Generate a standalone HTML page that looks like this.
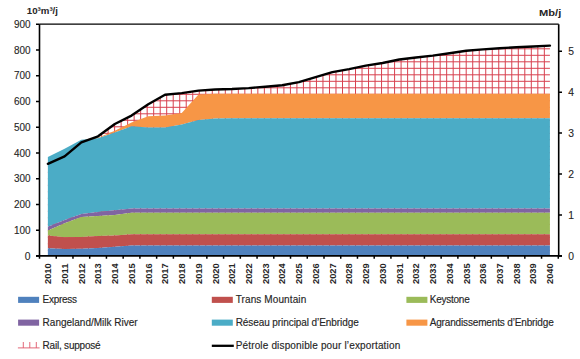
<!DOCTYPE html>
<html><head><meta charset="utf-8"><style>
html,body{margin:0;padding:0;background:#fff;}
body{width:580px;height:359px;position:relative;overflow:hidden;font-family:"Liberation Sans",sans-serif;}
</style></head><body>
<svg width="580" height="359" viewBox="0 0 580 359" style="position:absolute;left:0;top:0"><defs><clipPath id="hc"><polygon points="47.87,163.80 64.60,156.40 81.34,142.40 98.07,136.30 114.81,124.00 131.54,115.60 148.28,104.30 165.01,94.80 181.75,93.10 198.49,90.60 215.22,89.50 231.95,89.00 248.69,88.10 265.43,86.70 282.16,85.20 298.89,82.10 315.63,77.20 332.37,72.10 349.10,69.10 365.83,65.60 382.57,63.00 399.31,59.50 416.04,57.50 432.77,55.60 449.51,53.30 466.25,50.80 482.98,49.40 499.71,48.30 516.45,47.20 533.18,46.50 549.92,45.60 549.92,255.0 47.87,255.0"/></clipPath></defs><g clip-path="url(#hc)"><path d="M49.50,40 V256 M56.01,40 V256 M62.52,40 V256 M69.03,40 V256 M75.54,40 V256 M82.06,40 V256 M88.57,40 V256 M95.08,40 V256 M101.59,40 V256 M108.10,40 V256 M114.61,40 V256 M121.12,40 V256 M127.63,40 V256 M134.14,40 V256 M140.65,40 V256 M147.17,40 V256 M153.68,40 V256 M160.19,40 V256 M166.70,40 V256 M173.21,40 V256 M179.72,40 V256 M186.23,40 V256 M192.74,40 V256 M199.25,40 V256 M205.76,40 V256 M212.28,40 V256 M218.79,40 V256 M225.30,40 V256 M231.81,40 V256 M238.32,40 V256 M244.83,40 V256 M251.34,40 V256 M257.85,40 V256 M264.36,40 V256 M270.87,40 V256 M277.38,40 V256 M283.90,40 V256 M290.41,40 V256 M296.92,40 V256 M303.43,40 V256 M309.94,40 V256 M316.45,40 V256 M322.96,40 V256 M329.47,40 V256 M335.98,40 V256 M342.50,40 V256 M349.01,40 V256 M355.52,40 V256 M362.03,40 V256 M368.54,40 V256 M375.05,40 V256 M381.56,40 V256 M388.07,40 V256 M394.58,40 V256 M401.09,40 V256 M407.61,40 V256 M414.12,40 V256 M420.63,40 V256 M427.14,40 V256 M433.65,40 V256 M440.16,40 V256 M446.67,40 V256 M453.18,40 V256 M459.69,40 V256 M466.20,40 V256 M472.72,40 V256 M479.23,40 V256 M485.74,40 V256 M492.25,40 V256 M498.76,40 V256 M505.27,40 V256 M511.78,40 V256 M518.29,40 V256 M524.80,40 V256 M531.31,40 V256 M537.83,40 V256 M544.34,40 V256 M550.85,40 V256 M46,42.30 H552 M46,48.80 H552 M46,55.30 H552 M46,61.80 H552 M46,68.30 H552 M46,74.80 H552 M46,81.30 H552 M46,87.80 H552 M46,94.30 H552 M46,100.80 H552 M46,107.30 H552 M46,113.80 H552 M46,120.30 H552 M46,126.80 H552 M46,133.30 H552 M46,139.80 H552 M46,146.30 H552 M46,152.80 H552 M46,159.30 H552 M46,165.80 H552 M46,172.30 H552 M46,178.80 H552 M46,185.30 H552 M46,191.80 H552 M46,198.30 H552 M46,204.80 H552 M46,211.30 H552 M46,217.80 H552 M46,224.30 H552 M46,230.80 H552 M46,237.30 H552 M46,243.80 H552 M46,250.30 H552" stroke="#d8404f" stroke-width="1" fill="none"/></g><polygon points="47.87,156.90 64.60,148.70 81.34,139.80 98.07,137.80 114.81,130.80 131.54,122.50 148.28,116.30 165.01,115.40 181.75,113.00 198.49,94.60 215.22,93.80 231.95,93.80 248.69,93.80 265.43,93.80 282.16,93.80 298.89,93.80 315.63,93.80 332.37,93.80 349.10,93.80 365.83,93.80 382.57,93.80 399.31,93.80 416.04,93.80 432.77,93.80 449.51,93.80 466.25,93.80 482.98,93.80 499.71,93.80 516.45,93.80 533.18,93.80 549.92,93.80 549.92,118.20 533.18,118.20 516.45,118.20 499.71,118.20 482.98,118.20 466.25,118.20 449.51,118.20 432.77,118.20 416.04,118.20 399.31,118.20 382.57,118.20 365.83,118.20 349.10,118.20 332.37,118.20 315.63,118.20 298.89,118.20 282.16,118.20 265.43,118.20 248.69,118.20 231.95,118.20 215.22,118.60 198.49,120.00 181.75,124.50 165.01,127.50 148.28,127.40 131.54,126.30 114.81,132.60 98.07,138.20 81.34,139.80 64.60,148.70 47.87,156.90" fill="#F79646"/><polygon points="47.87,156.90 64.60,148.70 81.34,139.80 98.07,138.20 114.81,132.60 131.54,126.30 148.28,127.40 165.01,127.50 181.75,124.50 198.49,120.00 215.22,118.60 231.95,118.20 248.69,118.20 265.43,118.20 282.16,118.20 298.89,118.20 315.63,118.20 332.37,118.20 349.10,118.20 365.83,118.20 382.57,118.20 399.31,118.20 416.04,118.20 432.77,118.20 449.51,118.20 466.25,118.20 482.98,118.20 499.71,118.20 516.45,118.20 533.18,118.20 549.92,118.20 549.92,208.60 533.18,208.60 516.45,208.60 499.71,208.60 482.98,208.60 466.25,208.60 449.51,208.60 432.77,208.60 416.04,208.60 399.31,208.60 382.57,208.60 365.83,208.60 349.10,208.60 332.37,208.60 315.63,208.60 298.89,208.60 282.16,208.60 265.43,208.60 248.69,208.60 231.95,208.60 215.22,208.60 198.49,208.60 181.75,208.60 165.01,208.60 148.28,208.60 131.54,208.60 114.81,210.30 98.07,212.00 81.34,214.00 64.60,220.00 47.87,226.70" fill="#4BACC6"/><polygon points="47.87,226.70 64.60,220.00 81.34,214.00 98.07,212.00 114.81,210.30 131.54,208.60 148.28,208.60 165.01,208.60 181.75,208.60 198.49,208.60 215.22,208.60 231.95,208.60 248.69,208.60 265.43,208.60 282.16,208.60 298.89,208.60 315.63,208.60 332.37,208.60 349.10,208.60 365.83,208.60 382.57,208.60 399.31,208.60 416.04,208.60 432.77,208.60 449.51,208.60 466.25,208.60 482.98,208.60 499.71,208.60 516.45,208.60 533.18,208.60 549.92,208.60 549.92,212.80 533.18,212.80 516.45,212.80 499.71,212.80 482.98,212.80 466.25,212.80 449.51,212.80 432.77,212.80 416.04,212.80 399.31,212.80 382.57,212.80 365.83,212.80 349.10,212.80 332.37,212.80 315.63,212.80 298.89,212.80 282.16,212.80 265.43,212.80 248.69,212.80 231.95,212.80 215.22,212.80 198.49,212.80 181.75,212.80 165.01,212.80 148.28,212.80 131.54,212.80 114.81,215.00 98.07,216.00 81.34,217.00 64.60,223.20 47.87,230.50" fill="#8064A2"/><polygon points="47.87,230.50 64.60,223.20 81.34,217.00 98.07,216.00 114.81,215.00 131.54,212.80 148.28,212.80 165.01,212.80 181.75,212.80 198.49,212.80 215.22,212.80 231.95,212.80 248.69,212.80 265.43,212.80 282.16,212.80 298.89,212.80 315.63,212.80 332.37,212.80 349.10,212.80 365.83,212.80 382.57,212.80 399.31,212.80 416.04,212.80 432.77,212.80 449.51,212.80 466.25,212.80 482.98,212.80 499.71,212.80 516.45,212.80 533.18,212.80 549.92,212.80 549.92,234.30 533.18,234.30 516.45,234.30 499.71,234.30 482.98,234.30 466.25,234.30 449.51,234.30 432.77,234.30 416.04,234.30 399.31,234.30 382.57,234.30 365.83,234.30 349.10,234.30 332.37,234.30 315.63,234.30 298.89,234.30 282.16,234.30 265.43,234.30 248.69,234.30 231.95,234.30 215.22,234.30 198.49,234.30 181.75,234.30 165.01,234.30 148.28,234.30 131.54,234.30 114.81,235.50 98.07,236.10 81.34,237.00 64.60,237.20 47.87,235.60" fill="#9BBB59"/><polygon points="47.87,235.60 64.60,237.20 81.34,237.00 98.07,236.10 114.81,235.50 131.54,234.30 148.28,234.30 165.01,234.30 181.75,234.30 198.49,234.30 215.22,234.30 231.95,234.30 248.69,234.30 265.43,234.30 282.16,234.30 298.89,234.30 315.63,234.30 332.37,234.30 349.10,234.30 365.83,234.30 382.57,234.30 399.31,234.30 416.04,234.30 432.77,234.30 449.51,234.30 466.25,234.30 482.98,234.30 499.71,234.30 516.45,234.30 533.18,234.30 549.92,234.30 549.92,245.60 533.18,245.60 516.45,245.60 499.71,245.60 482.98,245.60 466.25,245.60 449.51,245.60 432.77,245.60 416.04,245.60 399.31,245.60 382.57,245.60 365.83,245.60 349.10,245.60 332.37,245.60 315.63,245.60 298.89,245.60 282.16,245.60 265.43,245.60 248.69,245.60 231.95,245.60 215.22,245.60 198.49,245.60 181.75,245.60 165.01,245.60 148.28,245.60 131.54,245.60 114.81,246.80 98.07,248.00 81.34,248.80 64.60,249.00 47.87,248.20" fill="#C0504D"/><polygon points="47.87,248.20 64.60,249.00 81.34,248.80 98.07,248.00 114.81,246.80 131.54,245.60 148.28,245.60 165.01,245.60 181.75,245.60 198.49,245.60 215.22,245.60 231.95,245.60 248.69,245.60 265.43,245.60 282.16,245.60 298.89,245.60 315.63,245.60 332.37,245.60 349.10,245.60 365.83,245.60 382.57,245.60 399.31,245.60 416.04,245.60 432.77,245.60 449.51,245.60 466.25,245.60 482.98,245.60 499.71,245.60 516.45,245.60 533.18,245.60 549.92,245.60 549.92,255.0 47.87,255.0" fill="#4F81BD"/><polyline points="47.87,163.80 64.60,156.40 81.34,142.40 98.07,136.30 114.81,124.00 131.54,115.60 148.28,104.30 165.01,94.80 181.75,93.10 198.49,90.60 215.22,89.50 231.95,89.00 248.69,88.10 265.43,86.70 282.16,85.20 298.89,82.10 315.63,77.20 332.37,72.10 349.10,69.10 365.83,65.60 382.57,63.00 399.31,59.50 416.04,57.50 432.77,55.60 449.51,53.30 466.25,50.80 482.98,49.40 499.71,48.30 516.45,47.20 533.18,46.50 549.92,45.60" fill="none" stroke="#000" stroke-width="2.4" stroke-linejoin="round" stroke-linecap="round"/><path d="M39.5,24.2 H558.7" stroke="#000" stroke-width="1.3" fill="none"/><path d="M39.5,24.2 V255.9 M558.7,24.2 V255.9" stroke="#000" stroke-width="1.6" fill="none"/><path d="M36,255.9 H562" stroke="#000" stroke-width="1.6" fill="none"/><path d="M36,255.90 H39.5 M36,230.16 H39.5 M36,204.41 H39.5 M36,178.67 H39.5 M36,152.92 H39.5 M36,127.18 H39.5 M36,101.43 H39.5 M36,75.69 H39.5 M36,49.94 H39.5 M36,24.20 H39.5 M558.7,255.90 H562 M558.7,214.97 H562 M558.7,174.03 H562 M558.7,133.10 H562 M558.7,92.17 H562 M558.7,51.23 H562 M39.50,255.9 V258.7 M56.23,255.9 V258.7 M72.97,255.9 V258.7 M89.70,255.9 V258.7 M106.44,255.9 V258.7 M123.17,255.9 V258.7 M139.91,255.9 V258.7 M156.64,255.9 V258.7 M173.38,255.9 V258.7 M190.12,255.9 V258.7 M206.85,255.9 V258.7 M223.58,255.9 V258.7 M240.32,255.9 V258.7 M257.06,255.9 V258.7 M273.79,255.9 V258.7 M290.52,255.9 V258.7 M307.26,255.9 V258.7 M324.00,255.9 V258.7 M340.73,255.9 V258.7 M357.46,255.9 V258.7 M374.20,255.9 V258.7 M390.94,255.9 V258.7 M407.67,255.9 V258.7 M424.40,255.9 V258.7 M441.14,255.9 V258.7 M457.88,255.9 V258.7 M474.61,255.9 V258.7 M491.34,255.9 V258.7 M508.08,255.9 V258.7 M524.82,255.9 V258.7 M541.55,255.9 V258.7 M558.28,255.9 V258.7" stroke="#000" stroke-width="1.5" fill="none"/><g font-family="Liberation Sans, sans-serif" font-size="10.3" fill="#262626" stroke="#262626" stroke-width="0.12"><text x="30.6" y="259.50" text-anchor="end">0</text><text x="30.6" y="233.76" text-anchor="end" textLength="16.6" lengthAdjust="spacingAndGlyphs">100</text><text x="30.6" y="208.01" text-anchor="end" textLength="16.6" lengthAdjust="spacingAndGlyphs">200</text><text x="30.6" y="182.27" text-anchor="end" textLength="16.6" lengthAdjust="spacingAndGlyphs">300</text><text x="30.6" y="156.52" text-anchor="end" textLength="16.6" lengthAdjust="spacingAndGlyphs">400</text><text x="30.6" y="130.78" text-anchor="end" textLength="16.6" lengthAdjust="spacingAndGlyphs">500</text><text x="30.6" y="105.03" text-anchor="end" textLength="16.6" lengthAdjust="spacingAndGlyphs">600</text><text x="30.6" y="79.29" text-anchor="end" textLength="16.6" lengthAdjust="spacingAndGlyphs">700</text><text x="30.6" y="53.54" text-anchor="end" textLength="16.6" lengthAdjust="spacingAndGlyphs">800</text><text x="30.6" y="27.80" text-anchor="end" textLength="16.6" lengthAdjust="spacingAndGlyphs">900</text><text x="568.2" y="259.50">0</text><text x="568.2" y="218.57">1</text><text x="568.2" y="177.63">2</text><text x="568.2" y="136.70">3</text><text x="568.2" y="95.77">4</text><text x="568.2" y="54.83">5</text></g><g font-family="Liberation Sans, sans-serif" font-size="8.2" font-weight="bold" fill="#262626"><text transform="translate(51.17,284.0) rotate(-90)" textLength="20.6" lengthAdjust="spacingAndGlyphs">2010</text><text transform="translate(67.90,284.0) rotate(-90)" textLength="20.6" lengthAdjust="spacingAndGlyphs">2011</text><text transform="translate(84.64,284.0) rotate(-90)" textLength="20.6" lengthAdjust="spacingAndGlyphs">2012</text><text transform="translate(101.37,284.0) rotate(-90)" textLength="20.6" lengthAdjust="spacingAndGlyphs">2013</text><text transform="translate(118.11,284.0) rotate(-90)" textLength="20.6" lengthAdjust="spacingAndGlyphs">2014</text><text transform="translate(134.84,284.0) rotate(-90)" textLength="20.6" lengthAdjust="spacingAndGlyphs">2015</text><text transform="translate(151.58,284.0) rotate(-90)" textLength="20.6" lengthAdjust="spacingAndGlyphs">2016</text><text transform="translate(168.31,284.0) rotate(-90)" textLength="20.6" lengthAdjust="spacingAndGlyphs">2017</text><text transform="translate(185.05,284.0) rotate(-90)" textLength="20.6" lengthAdjust="spacingAndGlyphs">2018</text><text transform="translate(201.79,284.0) rotate(-90)" textLength="20.6" lengthAdjust="spacingAndGlyphs">2019</text><text transform="translate(218.52,284.0) rotate(-90)" textLength="20.6" lengthAdjust="spacingAndGlyphs">2020</text><text transform="translate(235.25,284.0) rotate(-90)" textLength="20.6" lengthAdjust="spacingAndGlyphs">2021</text><text transform="translate(251.99,284.0) rotate(-90)" textLength="20.6" lengthAdjust="spacingAndGlyphs">2022</text><text transform="translate(268.73,284.0) rotate(-90)" textLength="20.6" lengthAdjust="spacingAndGlyphs">2023</text><text transform="translate(285.46,284.0) rotate(-90)" textLength="20.6" lengthAdjust="spacingAndGlyphs">2024</text><text transform="translate(302.19,284.0) rotate(-90)" textLength="20.6" lengthAdjust="spacingAndGlyphs">2025</text><text transform="translate(318.93,284.0) rotate(-90)" textLength="20.6" lengthAdjust="spacingAndGlyphs">2026</text><text transform="translate(335.67,284.0) rotate(-90)" textLength="20.6" lengthAdjust="spacingAndGlyphs">2027</text><text transform="translate(352.40,284.0) rotate(-90)" textLength="20.6" lengthAdjust="spacingAndGlyphs">2028</text><text transform="translate(369.13,284.0) rotate(-90)" textLength="20.6" lengthAdjust="spacingAndGlyphs">2029</text><text transform="translate(385.87,284.0) rotate(-90)" textLength="20.6" lengthAdjust="spacingAndGlyphs">2030</text><text transform="translate(402.61,284.0) rotate(-90)" textLength="20.6" lengthAdjust="spacingAndGlyphs">2031</text><text transform="translate(419.34,284.0) rotate(-90)" textLength="20.6" lengthAdjust="spacingAndGlyphs">2032</text><text transform="translate(436.07,284.0) rotate(-90)" textLength="20.6" lengthAdjust="spacingAndGlyphs">2033</text><text transform="translate(452.81,284.0) rotate(-90)" textLength="20.6" lengthAdjust="spacingAndGlyphs">2034</text><text transform="translate(469.55,284.0) rotate(-90)" textLength="20.6" lengthAdjust="spacingAndGlyphs">2035</text><text transform="translate(486.28,284.0) rotate(-90)" textLength="20.6" lengthAdjust="spacingAndGlyphs">2036</text><text transform="translate(503.01,284.0) rotate(-90)" textLength="20.6" lengthAdjust="spacingAndGlyphs">2037</text><text transform="translate(519.75,284.0) rotate(-90)" textLength="20.6" lengthAdjust="spacingAndGlyphs">2038</text><text transform="translate(536.48,284.0) rotate(-90)" textLength="20.6" lengthAdjust="spacingAndGlyphs">2039</text><text transform="translate(553.22,284.0) rotate(-90)" textLength="20.6" lengthAdjust="spacingAndGlyphs">2040</text></g><g font-family="Liberation Sans, sans-serif" fill="#262626"><text stroke="#262626" stroke-width="0" x="26.80" y="14.2" font-size="9.3" font-weight="bold" textLength="31.20" lengthAdjust="spacingAndGlyphs">10³m³/j</text><text stroke="#262626" stroke-width="0" x="539.10" y="16.2" font-size="8.9" font-weight="bold" textLength="22.20" lengthAdjust="spacingAndGlyphs">Mb/j</text><text stroke="#262626" stroke-width="0.15" x="42.60" y="303.0" font-size="10" font-weight="normal" textLength="34.50" lengthAdjust="spacing">Express</text><text stroke="#262626" stroke-width="0.15" x="235.70" y="303.0" font-size="10" font-weight="normal" textLength="70.50" lengthAdjust="spacing">Trans Mountain</text><text stroke="#262626" stroke-width="0.15" x="429.70" y="303.0" font-size="10" font-weight="normal" textLength="40.00" lengthAdjust="spacing">Keystone</text><text stroke="#262626" stroke-width="0.15" x="42.60" y="325.8" font-size="10" font-weight="normal" textLength="95.00" lengthAdjust="spacing">Rangeland/Milk River</text><text stroke="#262626" stroke-width="0.15" x="235.70" y="325.8" font-size="10" font-weight="normal" textLength="123.00" lengthAdjust="spacing">Réseau principal d’Enbridge</text><text stroke="#262626" stroke-width="0.15" x="429.70" y="325.8" font-size="10" font-weight="normal" textLength="124.00" lengthAdjust="spacing">Agrandissements d’Enbridge</text><text stroke="#262626" stroke-width="0.15" x="42.60" y="348.5" font-size="10" font-weight="normal" textLength="58.00" lengthAdjust="spacing">Rail, supposé</text><text stroke="#262626" stroke-width="0.15" x="235.70" y="348.5" font-size="10" font-weight="normal" textLength="164.50" lengthAdjust="spacing">Pétrole disponible pour l’exportation</text><rect x="18.1" y="296.80" width="21" height="6.1" fill="#4F81BD"/><rect x="211.8" y="296.80" width="21" height="6.1" fill="#C0504D"/><rect x="406.4" y="296.80" width="21" height="6.1" fill="#9BBB59"/><rect x="18.1" y="319.60" width="21" height="6.1" fill="#8064A2"/><rect x="211.8" y="319.60" width="21" height="6.1" fill="#4BACC6"/><rect x="406.4" y="319.60" width="21" height="6.1" fill="#F79646"/><path d="M17.9,347.9 H39.6 M23.3,342 V348 M29.8,342 V348 M36.3,342 V348" stroke="#e06072" stroke-width="0.95" fill="none"/><path d="M211.8,345.8 H233.8" stroke="#000" stroke-width="2.3" fill="none"/></g></svg>
</body></html>
